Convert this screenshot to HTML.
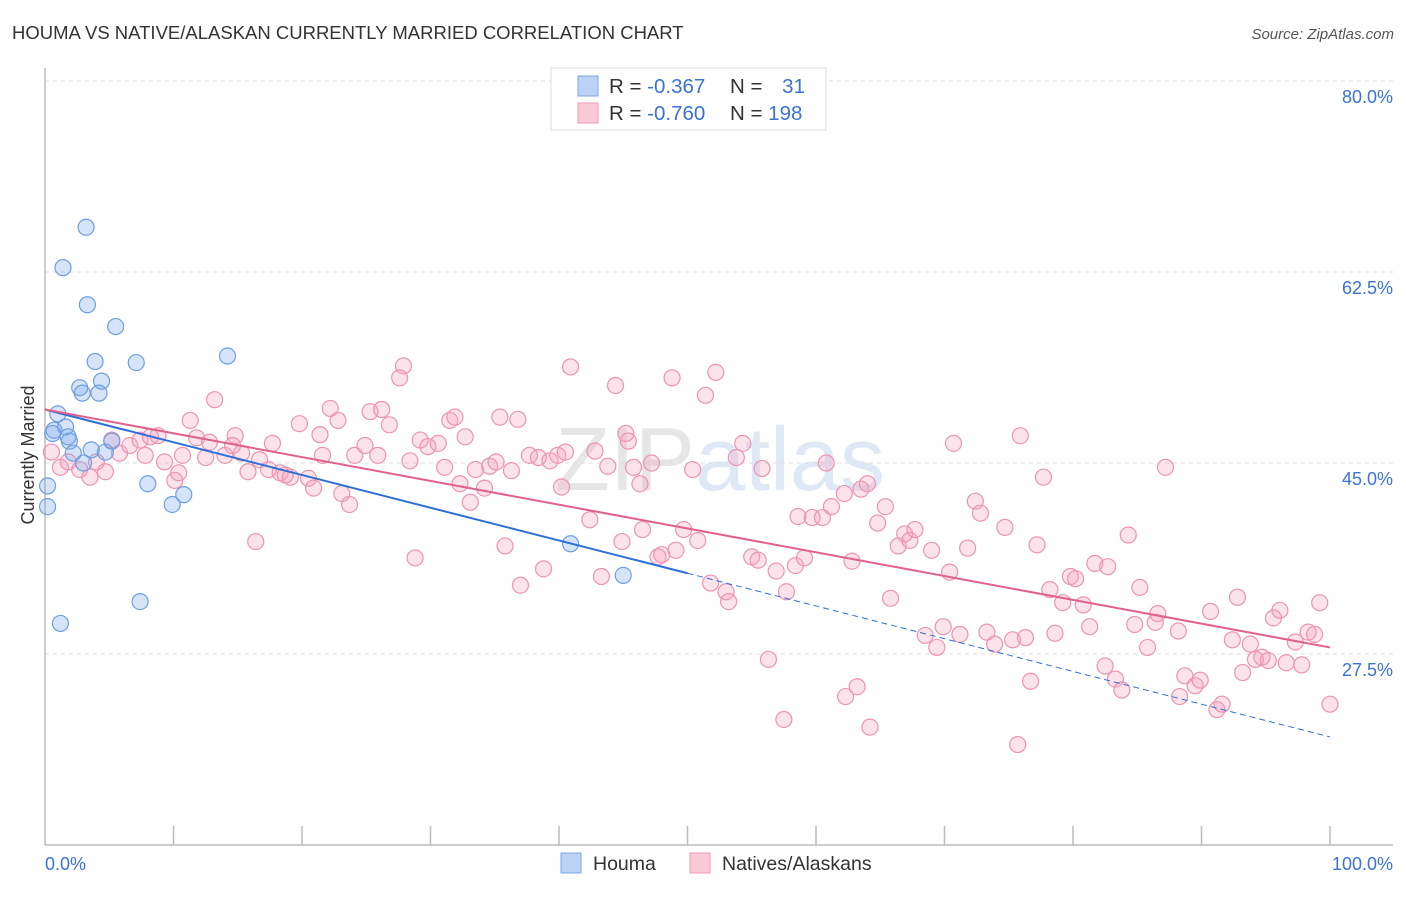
<!DOCTYPE html>
<html><head><meta charset="utf-8"><style>
body{margin:0;background:#fff;font-family:"Liberation Sans",sans-serif;}
svg text{font-family:"Liberation Sans",sans-serif;}
</style></head><body>
<svg width="1406" height="892" xmlns="http://www.w3.org/2000/svg" id="chart">
<text x="12" y="39" font-size="18.5" fill="#333">HOUMA VS NATIVE/ALASKAN CURRENTLY MARRIED CORRELATION CHART</text>
<text x="1394" y="39" font-size="15" fill="#555" text-anchor="end" font-style="italic">Source: ZipAtlas.com</text>
<text x="720" y="490" font-size="90" fill="#e6e6e6" text-anchor="middle" font-family="Liberation Serif">ZIP<tspan fill="#dfe8f5" font-family="Liberation Sans">atlas</tspan></text>
<g id="grid"></g>
<g id="axes"></g>
<g id="pts"></g>
<g id="lines"></g>
<text transform="translate(34,455) rotate(-90)" font-size="18" fill="#333" text-anchor="middle">Currently Married</text>
<g>
<rect x="551" y="68" width="275" height="62" fill="#fff" stroke="#ddd"/>
<rect x="578" y="76" width="20" height="20" fill="#b9d2f5" stroke="#7fa8e0"/>
<rect x="578" y="103" width="20" height="20" fill="#fbc9d8" stroke="#ef9ab6"/>
<text x="609" y="93" font-size="20.5" fill="#333">R = <tspan fill="#3b72d6">-0.367</tspan></text>
<text x="730" y="93" font-size="20.5" fill="#333">N = <tspan fill="#3b72d6" dx="14">31</tspan></text>
<text x="609" y="120" font-size="20.5" fill="#333">R = <tspan fill="#3b72d6">-0.760</tspan></text>
<text x="730" y="120" font-size="20.5" fill="#333">N = <tspan fill="#3b72d6">198</tspan></text>
</g>
<g>
<rect x="561" y="853" width="20" height="20" fill="#b9d2f5" stroke="#7fa8e0"/>
<text x="593" y="870" font-size="19.5" fill="#333">Houma</text>
<rect x="690" y="853" width="20" height="20" fill="#fbc9d8" stroke="#ef9ab6"/>
<text x="722" y="870" font-size="19.5" fill="#333">Natives/Alaskans</text>
</g>
</svg>
<script>
const houmaX=[3.2,1.4,3.3,5.5,3.9,7.1,14.2,2.7,4.4,2.9,4.2,1.0,0.7,1.6,1.8,0.6,1.9,2.2,3.6,4.7,3.0,5.2,0.2,0.2,8.0,10.8,9.9,7.4,1.2,40.9,45.0];
const houmaY=[66.6,62.9,59.5,57.5,54.3,54.2,54.8,51.9,52.5,51.4,51.4,49.5,48.0,48.3,47.4,47.7,47.0,45.9,46.2,46.0,45.0,47.0,42.9,41.0,43.1,42.1,41.2,32.3,30.3,37.6,34.7];
const nativeX=[0.5,1.2,1.8,2.7,3.5,4.7,4.0,5.8,5.2,6.6,7.4,8.2,8.8,7.8,9.3,10.1,10.4,11.3,11.8,10.7,12.8,12.5,13.2,14.0,14.8,14.6,15.3,15.8,16.4,16.7,17.7,17.4,18.3,19.1,18.7,19.8,20.5,20.9,21.4,21.6,22.2,22.8,23.1,23.7,24.1,24.9,25.9,25.3,26.2,26.8,27.6,27.9,28.4,28.8,29.2,29.8,30.6,31.1,31.5,31.9,32.3,32.7,33.1,33.5,34.2,34.6,35.1,35.4,35.8,36.3,36.8,37.0,37.7,38.4,38.8,39.3,39.9,40.2,40.5,40.9,42.4,42.8,43.3,43.8,44.4,44.9,45.2,45.4,45.8,46.3,46.5,47.2,47.7,48.0,48.8,49.1,49.7,50.4,50.8,51.4,51.8,52.2,53.0,53.2,53.8,54.3,55.0,55.5,55.8,56.3,56.9,57.5,57.7,58.4,58.6,59.1,59.7,60.5,60.8,61.2,62.2,62.3,62.8,63.2,63.5,64.0,64.2,64.8,65.4,65.8,66.4,66.9,67.3,67.7,68.5,69.0,69.4,69.9,70.4,70.7,71.2,71.8,72.4,72.8,73.3,73.9,74.7,75.3,75.7,75.9,76.3,76.7,77.2,77.7,78.2,78.6,79.2,79.8,80.2,80.8,81.3,81.7,82.5,82.7,83.3,83.8,84.3,84.8,85.2,85.8,86.4,86.6,87.2,88.2,88.3,88.7,89.5,89.9,90.7,91.2,91.6,92.4,92.8,93.2,93.8,94.2,94.7,95.2,95.6,96.1,96.6,97.3,97.8,98.3,98.8,99.2,100];
const nativeY=[46.0,44.6,45.1,44.4,43.7,44.2,45.1,45.9,47.1,46.6,47.1,47.4,47.5,45.7,45.1,43.4,44.1,48.9,47.3,45.7,46.9,45.5,50.8,45.7,47.5,46.6,45.9,44.2,37.8,45.3,46.8,44.4,44.1,43.7,43.9,48.6,43.6,42.7,47.6,45.7,50.0,48.9,42.2,41.2,45.7,46.6,45.7,49.7,49.9,48.5,52.8,53.9,45.2,36.3,47.1,46.5,46.8,44.6,48.9,49.2,43.1,47.4,41.4,44.4,42.7,44.7,45.1,49.2,37.4,44.3,49.0,33.8,45.7,45.5,35.3,45.2,45.7,42.8,46.0,53.8,39.8,46.1,34.6,44.7,52.1,37.8,47.7,47.0,44.6,43.1,38.9,45.0,36.4,36.6,52.8,37.0,38.9,44.4,37.9,51.2,34.0,53.3,33.2,32.3,45.5,46.8,36.4,36.1,44.5,27.0,35.1,21.5,33.2,35.6,40.1,36.3,40.0,40.0,45.0,41.0,42.2,23.6,36.0,24.5,42.6,43.1,20.8,39.5,41.0,32.6,37.4,38.5,37.9,38.9,29.2,37.0,28.1,30.0,35.0,46.8,29.3,37.2,41.5,40.4,29.5,28.4,39.1,28.8,19.2,47.5,29.0,25.0,37.5,43.7,33.4,29.4,32.2,34.6,34.4,32.0,30.0,35.8,26.4,35.5,25.2,24.2,38.4,30.2,33.6,28.1,30.4,31.2,44.6,29.6,23.6,25.5,24.6,25.1,31.4,22.4,22.9,28.8,32.7,25.8,28.4,27.0,27.2,26.9,30.8,31.5,26.7,28.6,26.5,29.5,29.3,32.2,22.9];
const yTicks=[80,62.5,45,27.5];
const yTickLabels=["80.0%","62.5%","45.0%","27.5%"];
const houmaTrend=[49.9,-0.30];
const nativeTrend=[49.9,-0.218];

const NS="http://www.w3.org/2000/svg";
const X0=45,X1=1330,YTOP=81;
const xs=v=>X0+(X1-X0)*v/100;
const ys=v=>YTOP+(80-v)*10.914;
function mk(t,a,p){const e=document.createElementNS(NS,t);for(const k in a)e.setAttribute(k,a[k]);p.appendChild(e);return e;}
const grid=document.getElementById('grid'),axes=document.getElementById('axes'),pts=document.getElementById('pts'),lines=document.getElementById('lines');
yTicks.forEach((t,i)=>{
  const l=mk('line',{x1:X0,x2:1393,y1:ys(t),y2:ys(t),stroke:'#ddd','stroke-dasharray':'4,4'},grid);
  
  
  const tx=mk('text',{x:1393,y:ys(t)+22,'font-size':18,fill:'#3b72d6','text-anchor':'end'},axes);
  tx.textContent=yTickLabels[i];
  
  
});
mk('line',{x1:X0,x2:X0,y1:68,y2:845,stroke:'#bbb','stroke-width':1.5},axes);
mk('line',{x1:X0,x2:1393,y1:845,y2:845,stroke:'#bbb','stroke-width':1.5},axes);
for(let i=1;i<=10;i++){mk('line',{x1:xs(i*10),x2:xs(i*10),y1:826,y2:845,stroke:'#bbb','stroke-width':1.5},axes);}
const xl0=mk('text',{x:45,y:870,'font-size':18,fill:'#3b72d6'},axes);xl0.textContent='0.0%';


const xl1=mk('text',{x:1393,y:870,'font-size':18,fill:'#3b72d6','text-anchor':'end'},axes);xl1.textContent='100.0%';


nativeX.forEach((x,i)=>{
  const c=mk('circle',{cx:xs(x),cy:ys(nativeY[i]),r:8,fill:'rgba(246,160,190,0.3)',stroke:'#ec94b2','stroke-width':1.2},pts);
  
  
});
houmaX.forEach((x,i)=>{
  const c=mk('circle',{cx:xs(x),cy:ys(houmaY[i]),r:8,fill:'rgba(120,165,235,0.3)',stroke:'#6f9fe0','stroke-width':1.2},pts);
  
  
});
const hb=x=>houmaTrend[0]+houmaTrend[1]*x, nb=x=>nativeTrend[0]+nativeTrend[1]*x;
const l1=mk('line',{x1:xs(0),y1:ys(hb(0)),x2:xs(50),y2:ys(hb(50)),stroke:'#2d6fd6','stroke-width':2},lines);


const l2=mk('line',{x1:xs(50),y1:ys(hb(50)),x2:xs(100),y2:ys(hb(100)),stroke:'#2d6fd6','stroke-width':1,'stroke-dasharray':'6,4'},lines);


const l3=mk('line',{x1:xs(0),y1:ys(nb(0)),x2:xs(100),y2:ys(nb(100)),stroke:'#e0608e','stroke-width':2},lines);


</script>
</body></html>
